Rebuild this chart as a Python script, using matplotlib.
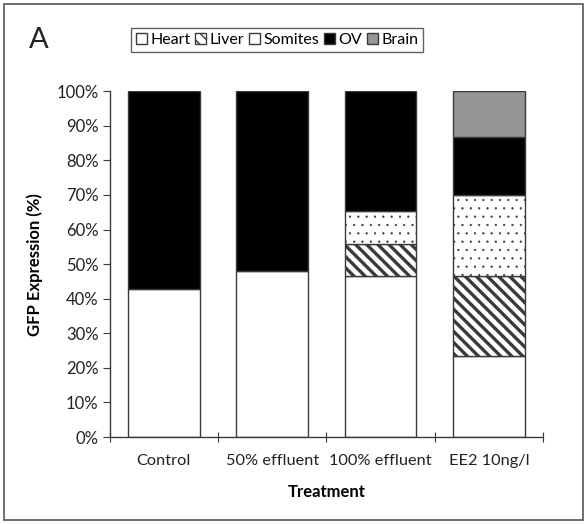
import matplotlib
matplotlib.use("Agg")
import matplotlib.pyplot as plt
from matplotlib.patches import Rectangle
import numpy as np

plt.rcParams['font.family'] = ['Lato', 'DejaVu Sans']

treatments = ["Control", "50% effluent", "100% effluent", "EE2 10ng/l"]
tissues = ["Heart", "Liver", "Somites", "OV", "Brain"]
# share of embryos with GFP in each tissue (%)
heart = [42.9, 48.0, 46.7, 23.3]
liver = [0.0, 0.0, 9.2, 23.3]
somites = [0.0, 0.0, 9.4, 23.4]
ov = [57.1, 52.0, 34.7, 16.7]
brain = [0.0, 0.0, 0.0, 13.3]

series = [heart, liver, somites, ov, brain]
colors = ["white", "white", "white", "black", "#969696"]
hatches = [None, "\\\\\\", "..", None, None]
hatch_lw = [1.0, 2.4, 0.4, 1.0, 1.0]

fig = plt.figure(figsize=(5.87, 5.24), dpi=100)
ax = fig.add_axes([0.187, 0.166, 0.738, 0.660])

x = np.arange(len(treatments))
bottom = np.zeros(len(treatments))
handles = []
for vals, c, h, hl, name in zip(series, colors, hatches, hatch_lw, tissues):
    vals = np.array(vals) / 100.0
    with plt.rc_context({'hatch.linewidth': hl, 'hatch.color': 'black'}):
        bars = ax.bar(x, vals, width=0.66, bottom=bottom, color=c,
                      edgecolor="#3a3a3a", linewidth=1.0, hatch=h, label=name)
        for i, b in enumerate(bars):
            if hasattr(b, "set_hatch_linewidth"):
                b.set_hatch_linewidth(hl)
            if vals[i] == 0:
                b.set_visible(False)
        hp = Rectangle((0, 0), 1, 1, facecolor=c, edgecolor="#3a3a3a",
                       linewidth=1.0, hatch=None if h == ".." else h)
        if hasattr(hp, "set_hatch_linewidth"):
            hp.set_hatch_linewidth(1.2)
    handles.append(hp)
    bottom += vals

ax.set_xlim(-0.5, 3.5)
ax.set_ylim(0, 1)
ax.set_yticks(np.arange(0, 1.01, 0.1))
ax.set_yticklabels(["%d%%" % v for v in range(0, 101, 10)])
ax.set_xticks(np.arange(-0.5, 3.6, 1.0))
ax.set_xticklabels([])
ax.set_xticks(x, minor=True)
ax.set_xticklabels(treatments, minor=True)
ax.tick_params(axis='x', which='major', direction='inout', length=7, color="#3a3a3a")
ax.tick_params(axis='x', which='minor', length=0, pad=12, labelsize=11.8, labelcolor="#222222")
ax.tick_params(axis='y', direction='out', length=5, color="#3a3a3a", labelsize=12,
               labelcolor="#222222", pad=3)
for s in ['top', 'right']:
    ax.spines[s].set_visible(False)
for s in ['left', 'bottom']:
    ax.spines[s].set_color("#3a3a3a")
    ax.spines[s].set_linewidth(1.0)

ax.set_ylabel("GFP Expression (%)", fontsize=12, fontweight='bold', labelpad=10)
ax.set_xlabel("Treatment", fontsize=12, fontweight='bold', labelpad=12)

leg = fig.legend(handles, tissues, loc='center', bbox_to_anchor=(0.472, 0.924), ncol=5,
                 fontsize=11.5, frameon=True, fancybox=False, handlelength=0.7,
                 handleheight=0.7, handletextpad=0.2, columnspacing=0.3,
                 borderpad=0.3, borderaxespad=0)
leg.get_frame().set_edgecolor("#3a3a3a")
leg.get_frame().set_linewidth(1.0)

fig.text(0.050, 0.924, "A", fontsize=21, va='center', ha='left', color="#222222")

fig.patches.append(Rectangle((0.007, 0.008), 0.986, 0.984, transform=fig.transFigure,
                             fill=False, edgecolor="#555555", linewidth=1.2))

fig.savefig("out.png", dpi=100)
